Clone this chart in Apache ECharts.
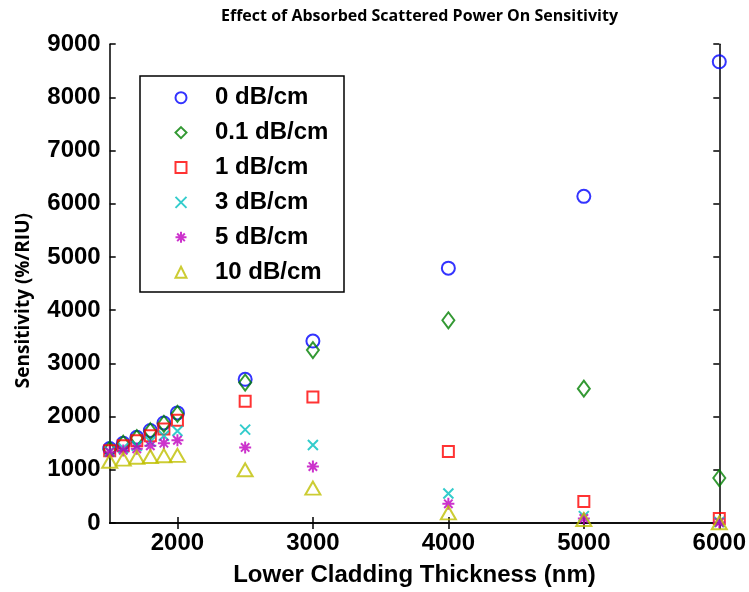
<!DOCTYPE html>
<html>
<head>
<meta charset="utf-8">
<script src="https://cdn.jsdelivr.net/npm/echarts@6/dist/echarts.min.js"></script>
<style>html,body{margin:0;padding:0;background:#fff}#c{width:749px;height:592px}</style>
</head>
<body>
<div id="c"></div>
<script>
const thickness = [1500,1600,1700,1800,1900,2000,2500,3000,4000,5000,6000];
const loss0  = [1400,1500,1610,1740,1880,2070,2700,3420,4790,6140,8670];
const loss01 = [1380,1490,1595,1725,1865,2050,2640,3250,3810,2525,845];
const loss1  = [1360,1450,1545,1640,1765,1930,2290,2370,1345,405,85];
const loss3  = [1345,1410,1450,1530,1640,1730,1755,1465,555,130,20];
const loss5  = [1330,1365,1395,1450,1500,1555,1420,1060,360,85,10];
const loss10 = [1160,1200,1235,1250,1265,1270,1000,655,190,65,5];
const seriesNames = ['0 dB/cm','0.1 dB/cm','1 dB/cm','3 dB/cm','5 dB/cm','10 dB/cm'];
const xTicks = [2000,3000,4000,5000,6000];

const seriesValues = [loss0, loss01, loss1, loss3, loss5, loss10];
const colors = ['#0000ff','#008000','#ff0000','#00bfbf','#bf00bf','#bfbf00'];
const symbols = [
  'circle',
  'diamond',
  'rect',
  'path://M0,0L10,10M10,0L0,10',
  'path://M5,0L5,10M0,5L10,5M1.5,1.5L8.5,8.5M8.5,1.5L1.5,8.5',
  'triangle'
];
const sizes = [13, [12,16], 11, 10, 12, [15,13]];

const chart = echarts.init(document.getElementById('c'), null, {renderer:'canvas'});
const axisLine = {show:true, lineStyle:{color:'#000', width:1.5}};
const tickStyle = {lineStyle:{color:'#000', width:1.5}};
const labelFont = {color:'#000', fontFamily:'Liberation Sans', fontWeight:'bold', fontSize:24};
const plain = v => String(v);

const option = {
  animation:false,
  backgroundColor:'#fff',
  title:{
    text:'Effect of Absorbed Scattered Power On Sensitivity',
    left:414.5, top:3, textAlign:'center',
    textStyle:{fontFamily:'Open Sans', fontWeight:'bold', fontSize:16, color:'#000'}
  },
  grid:{left:109.7, right:29.7, top:44.2, bottom:66.7, containLabel:false},
  graphic:[{type:'rect', shape:{x:140, y:76, width:204, height:216},
    style:{fill:'#fff', stroke:'#000', lineWidth:1.5}, z:5}],
  legend:{
    orient:'vertical', left:174.5, top:85.7, padding:0,
    itemWidth:11, itemHeight:11, itemGap:10.9, z:10,
    textStyle:{color:'#000', fontFamily:'Liberation Sans', fontWeight:'bold', fontSize:24, lineHeight:24, padding:[0,0,0,23.5]},
    data:seriesNames
  },
  xAxis:[{
    type:'value', min:1500, max:6000, position:'bottom',
    axisLine:axisLine, splitLine:{show:false},
    axisTick:{show:true, inside:true, length:6, customValues:xTicks, ...tickStyle},
    axisLabel:{customValues:xTicks, margin:8, formatter:plain, ...labelFont},
    name:'Lower Cladding Thickness (nm)', nameLocation:'middle', nameGap:40,
    nameTextStyle:{...labelFont}
  },{
    type:'value', min:1500, max:6000, position:'top',
    axisLine:axisLine, splitLine:{show:false},
    axisTick:{show:true, inside:true, length:6, customValues:xTicks, ...tickStyle},
    axisLabel:{show:false}
  }],
  yAxis:[{
    type:'value', min:0, max:9000, interval:1000, position:'left',
    axisLine:axisLine, splitLine:{show:false},
    axisTick:{show:true, inside:true, length:6, ...tickStyle},
    axisLabel:{margin:9, formatter:plain, ...labelFont},
    name:'Sensitivity (%/RIU)', nameLocation:'middle', nameGap:77,
    nameTextStyle:{color:'#000', fontFamily:'Open Sans', fontWeight:'bold', fontSize:19, padding:[0,34,0,0]}
  },{
    type:'value', min:0, max:9000, interval:1000, position:'right',
    axisLine:axisLine, splitLine:{show:false},
    axisTick:{show:true, inside:true, length:6, ...tickStyle},
    axisLabel:{show:false}
  }],
  series: seriesNames.map((n,i)=>({
    name:n, type:'scatter', xAxisIndex:0, yAxisIndex:0,
    symbol:symbols[i], symbolSize:sizes[i], symbolKeepAspect:true,
    itemStyle:{color:'rgba(0,0,0,0)', borderColor:colors[i], borderWidth:2},
    emphasis:{disabled:true},
    data: thickness.map((x,j)=>[x, seriesValues[i][j]]),
    z:3
  }))
};
chart.setOption(option);
</script>
</body>
</html>
